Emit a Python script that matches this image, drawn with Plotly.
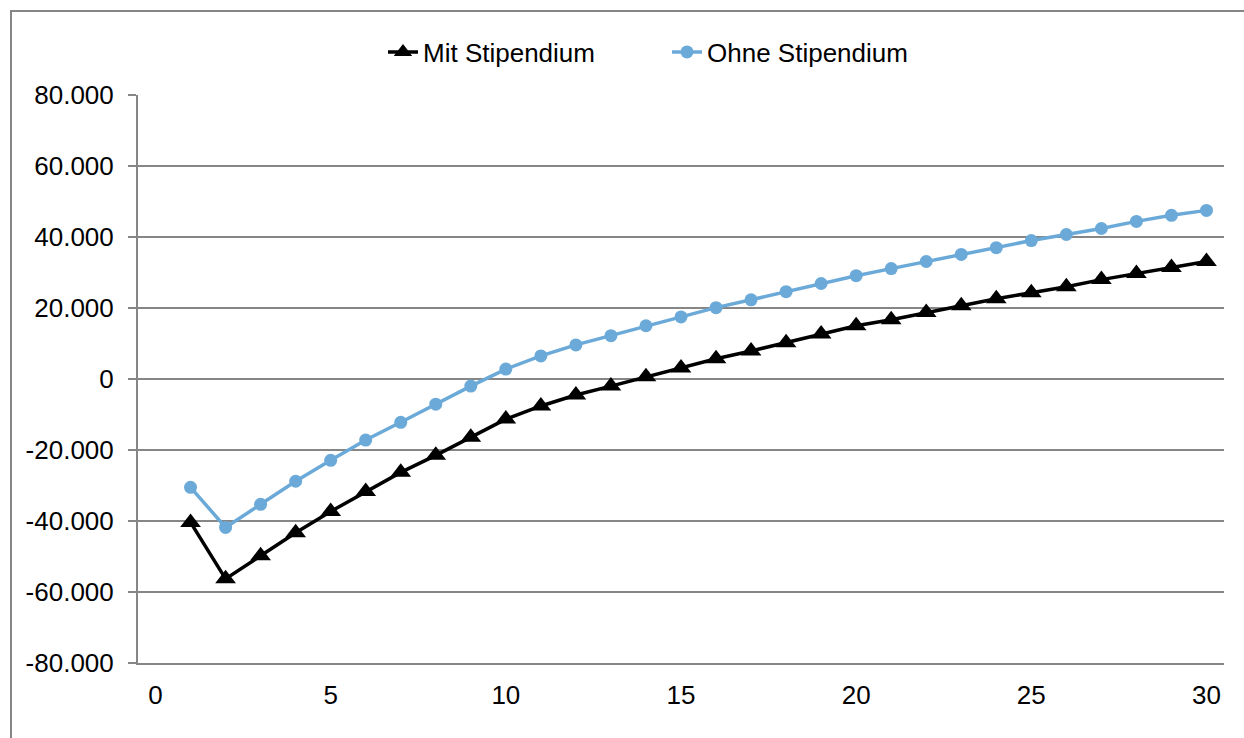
import plotly.graph_objects as go

jahre = list(range(1, 31))
mit_stipendium = [-40400, -56300, -49800, -43300, -37300, -31700, -26300, -21500, -16400, -11300,
                  -7600, -4500, -2000, 600, 3100, 5700, 7900, 10200, 12700, 15000,
                  16700, 18700, 20600, 22600, 24300, 26000, 28000, 29700, 31400, 33100]
ohne_stipendium = [-30500, -41800, -35300, -28800, -22900, -17200, -12200, -7100, -2000, 2800,
                   6500, 9600, 12200, 15000, 17500, 20100, 22300, 24600, 26900, 29100,
                   31100, 33100, 35100, 37000, 39000, 40700, 42400, 44400, 46100, 47500]
x_ticks = [0, 5, 10, 15, 20, 25, 30]
y_ticks = [-80000, -60000, -40000, -20000, 0, 20000, 40000, 60000, 80000]
y_labels = ["-80.000", "-60.000", "-40.000", "-20.000", "0", "20.000", "40.000", "60.000", "80.000"]

W, H = 1244, 738
L, R, T, B = 138, 20, 95, 75
pw, ph = W - L - R, H - T - B

fig = go.Figure()
fig.add_trace(go.Scatter(x=jahre, y=mit_stipendium, name="Mit Stipendium", mode="lines+markers",
                         line=dict(color="black", width=3.5),
                         marker=dict(symbol="triangle-up", size=18, color="black")))
fig.add_trace(go.Scatter(x=jahre, y=ohne_stipendium, name="Ohne Stipendium", mode="lines+markers",
                         line=dict(color="#6BAAD8", width=3.5),
                         marker=dict(symbol="circle", size=13, color="#6BAAD8")))

grid = "#868686"
fig.update_layout(
    width=W, height=H,
    margin=dict(l=L, r=R, t=T, b=B, pad=0),
    paper_bgcolor="white", plot_bgcolor="white",
    font=dict(family="Liberation Sans, Arial, sans-serif", size=26, color="black"),
    showlegend=True,
    legend=dict(orientation="h", x=(383 - L) / pw, xanchor="left", y=(H - B - 52) / ph, yanchor="middle",
                font=dict(size=26), entrywidthmode="pixels", entrywidth=239,
                bgcolor="rgba(0,0,0,0)"),
    xaxis=dict(range=[-0.5, 30.5], tickvals=x_ticks, showgrid=False, zeroline=False,
               showline=True, linecolor=grid, linewidth=2, ticks="", ticklabelstandoff=8),
    yaxis=dict(range=[-80000, 80000], tickvals=y_ticks, ticktext=y_labels, showgrid=True,
               gridcolor=grid, gridwidth=2, zeroline=False, showline=True, linecolor=grid, linewidth=2,
               ticks="outside", ticklen=8, tickcolor=grid, tickwidth=2, ticklabelstandoff=9),
)

fig.add_shape(type="rect", xref="paper", yref="paper",
              x0=(11 - L) / pw, x1=1.2, y0=-0.3, y1=(H - B - 11) / ph,
              line=dict(color=grid, width=2), fillcolor="rgba(0,0,0,0)", layer="below")

fig.write_html("out.html")
